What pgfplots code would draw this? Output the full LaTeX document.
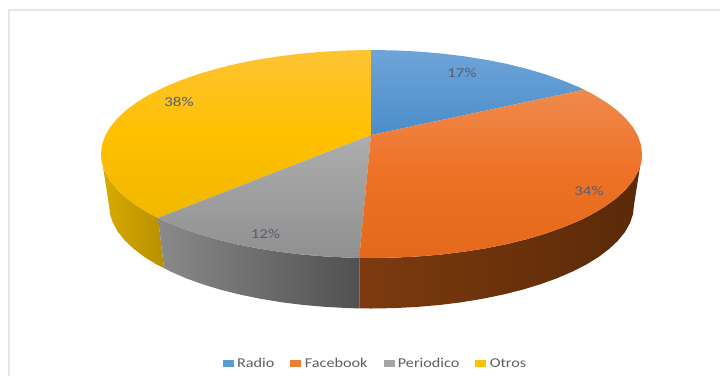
\documentclass[border=0pt]{standalone}
\usepackage{graphicx}
\usepackage{fontspec}
\setmainfont{Carlito}
\usepackage{pgfplots}
\pgfplotsset{compat=1.18}

\definecolor{labelink}{HTML}{555F70}
\definecolor{legendink}{HTML}{5F5F5F}
\definecolor{framecol}{HTML}{E3E6EC}
\definecolor{radiocol}{HTML}{5B9BD5}
\definecolor{facebookcol}{HTML}{ED7D31}
\definecolor{periodicocol}{HTML}{A5A5A5}
\definecolor{otroscol}{HTML}{FFC000}

% data label, widened to the proportions of the chart's text
\newcommand{\slicelabel}[1]{\scalebox{1.25}[1]{\fontsize{13.5}{15}\selectfont\color{labelink}#1}}
\newcommand{\legendtext}[1]{\scalebox{1.2}[1]{\fontsize{13.5}{15}\selectfont\color{legendink}#1}}

\begin{document}
\begin{tikzpicture}
\useasboundingbox (0,0) rectangle (720pt,376pt);
\begin{axis}[
  at={(0,0)}, anchor=south west,
  scale only axis, width=720pt, height=376pt,
  xmin=0, xmax=720, ymin=0, ymax=376,
  y dir=reverse, hide axis, clip=true,
  legend cell align=left,
  legend style={
    at={(axis cs:374.5,363.5)}, anchor=center, draw=none, fill=none,
    legend columns=4, inner sep=0pt, outer sep=0pt,
    /tikz/every odd column/.append style={column sep=4pt},
    /tikz/every even column/.append style={column sep=16pt},
    nodes={inner sep=0pt, outer sep=0pt},
  },
  legend image code/.code={
    \fill[#1] (0pt,-3pt) rectangle (10pt,3pt);
  },
]
% frame of the chart area
\addplot[forget plot, framecol, line width=1.2pt] coordinates {(9,376)(9,10)(720,10)};

% side wall: Otros
\addplot[forget plot, draw=none, left color={rgb,255:red,217;green,171;blue,0}, right color={rgb,255:red,185;green,143;blue,0}] coordinates {
 (101.0,154)(102.0,163.1)(105.1,172.1)(110.2,180.9)(117.3,189.6)(126.3,198.0)(137.2,206.0)(149.9,213.7)(158.0,217.9)
 (164.0,268.0)(156.5,264.4)(144.2,256.8)(133.6,248.7)(124.8,240.4)(117.9,231.8)(113.0,223.0)(110.0,214.0)(109.0,205)
} -- cycle;
% side wall: Periodico
\addplot[forget plot, draw=none, left color={rgb,255:red,138;green,138;blue,138}, right color={rgb,255:red,80;green,80;blue,80}] coordinates {
 (158.0,217.9)(164.3,220.9)(180.2,227.5)(197.6,233.7)(216.3,239.2)(236.2,244.1)(257.2,248.3)(279.0,251.7)(301.5,254.5)(324.5,256.4)(347.9,257.6)(359.3,257.9)
 (359.3,308.4)(348.6,308.1)(325.9,306.9)(303.6,305.0)(281.7,302.3)(260.6,298.8)(240.2,294.6)(220.9,289.8)(202.8,284.3)(185.9,278.2)(170.4,271.5)(164.0,268.0)
} -- cycle;
% side wall: Facebook
\addplot[forget plot, draw=none, left color={rgb,255:red,125;green,58;blue,14}, middle color={rgb,255:red,92;green,44;blue,10}, right color={rgb,255:red,90;green,42;blue,9}] coordinates {
 (359.3,257.9)(371.5,258)(395.1,257.6)(418.5,256.4)(441.5,254.5)(464.0,251.7)(485.8,248.3)(506.8,244.1)(526.7,239.2)(545.4,233.7)(562.8,227.5)(578.7,220.9)(593.1,213.7)(605.8,206.0)(616.7,198.0)(625.7,189.6)(632.8,180.9)(637.9,172.1)(641.0,163.1)(642.0,154)
 (634.0,205)(633.0,214.0)(630.0,223.0)(625.1,231.8)(618.2,240.4)(609.4,248.7)(598.8,256.8)(586.5,264.4)(572.6,271.5)(557.1,278.2)(540.2,284.3)(522.1,289.8)(502.8,294.6)(482.4,298.8)(461.3,302.3)(439.4,305.0)(417.1,306.9)(394.4,308.1)(371.5,308.5)(359.3,308.4)
} -- cycle;

% top face: Otros
\addplot[forget plot, draw=none, top color={rgb,255:red,253;green,196;blue,52}, bottom color={rgb,255:red,240;green,184;blue,0}, middle color=otroscol] coordinates {
 (371,135)(158.0,217.9)(149.9,213.7)(137.2,206.0)(126.3,198.0)(117.3,189.6)(110.2,180.9)(105.1,172.1)(102.0,163.1)(101.0,154)
 (102.0,144.9)(105.1,135.9)(110.2,127.1)(117.3,118.4)(126.3,110.0)(137.2,102.0)(149.9,94.3)(164.3,87.1)(180.2,80.5)(197.6,74.3)(216.3,68.8)(236.2,63.9)(257.2,59.7)(279.0,56.3)(301.5,53.5)(324.5,51.6)(347.9,50.4)(371.0,50)
} -- cycle;
% top face: Radio
\addplot[forget plot, draw=none, top color={rgb,255:red,111;green,164;blue,216}, bottom color={rgb,255:red,74;green,141;blue,202}] coordinates {
 (371,135)(371,50)(395.1,50.4)(418.5,51.6)(441.5,53.5)(464.0,56.3)(485.8,59.7)(506.8,63.9)(526.7,68.8)(545.4,74.3)(562.8,80.5)(578.7,87.1)(584.0,89.7)
} -- cycle;
% top face: Periodico
\addplot[forget plot, draw=none, top color={rgb,255:red,173;green,173;blue,173}, bottom color={rgb,255:red,144;green,144;blue,144}] coordinates {
 (371,135)(359.3,257.9)(347.9,257.6)(324.5,256.4)(301.5,254.5)(279.0,251.7)(257.2,248.3)(236.2,244.1)(216.3,239.2)(197.6,233.7)(180.2,227.5)(164.3,220.9)(158.0,217.9)
} -- cycle;
% top face: Facebook
\addplot[forget plot, draw=none, top color={rgb,255:red,238;green,138;blue,78}, bottom color={rgb,255:red,228;green,105;blue,26}, middle color={rgb,255:red,238;green,113;blue,37}] coordinates {
 (371,135)(584.0,89.7)(593.1,94.3)(605.8,102.0)(616.7,110.0)(625.7,118.4)(632.8,127.1)(637.9,135.9)(641.0,144.9)(642.0,154)
 (641.0,163.1)(637.9,172.1)(632.8,180.9)(625.7,189.6)(616.7,198.0)(605.8,206.0)(593.1,213.7)(578.7,220.9)(562.8,227.5)(545.4,233.7)(526.7,239.2)(506.8,244.1)(485.8,248.3)(464.0,251.7)(441.5,254.5)(418.5,256.4)(395.1,257.6)(371.5,258)(359.3,257.9)
} -- cycle;

% legend swatches
\addlegendimage{radiocol}
\addlegendentry{\legendtext{Radio}}
\addlegendimage{facebookcol}
\addlegendentry{\legendtext{Facebook}}
\addlegendimage{periodicocol}
\addlegendentry{\legendtext{Periodico}}
\addlegendimage{otroscol}
\addlegendentry{\legendtext{Otros}}

% percentage labels
\node at (axis cs:462,73) {\slicelabel{17\%}};
\node at (axis cs:589,190.5) {\slicelabel{34\%}};
\node at (axis cs:265.5,233.5) {\slicelabel{12\%}};
\node at (axis cs:179,101.5) {\slicelabel{38\%}};
\end{axis}
\end{tikzpicture}
\end{document}
